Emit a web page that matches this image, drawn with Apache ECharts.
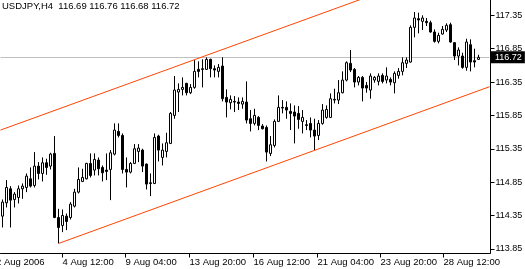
<!DOCTYPE html>
<html><head><meta charset="utf-8">
<script src="https://cdn.jsdelivr.net/npm/echarts@6/dist/echarts.min.js"></script>
<style>html,body{margin:0;padding:0;background:#fff}#c{width:525px;height:269px}</style>
</head><body><div id="c"></div>
<script>
const symbol = 'USDJPY,H4';
const opens = [
114.34,114.54,114.75,114.59,114.62,114.75,114.77,114.90,114.80,115.09,
114.98,115.14,115.09,115.28,114.32,114.20,114.34,114.32,114.49,114.70,
114.86,114.90,115.13,115.03,115.18,115.07,115.03,115.04,115.27,115.61,
115.55,115.04,115.00,115.13,115.31,115.33,115.12,114.84,114.83,115.54,
115.22,115.31,115.43,115.85,116.20,116.24,116.33,116.19,116.27,116.54,
116.55,116.54,116.69,116.55,116.51,116.59,116.12,116.04,116.06,116.05,
116.02,116.05,115.80,115.73,115.82,115.69,115.67,115.28,115.40,115.76,
115.97,115.97,115.91,115.90,115.88,115.76,115.71,115.73,115.63,115.55,
115.73,115.82,115.82,116.09,116.08,116.19,116.38,116.63,116.54,116.35,
116.42,116.30,116.23,116.38,116.36,116.45,116.38,116.39,116.34,116.45,
116.51,116.63,116.65,117.17,117.30,117.26,117.26,117.24,117.10,116.96,
117.07,117.13,117.21,116.94,116.74,116.74,116.57,116.91,116.67,116.69];
const closes = [
114.55,114.77,114.58,114.67,114.75,114.79,114.94,114.79,115.09,114.98,
115.14,115.07,115.27,114.32,114.17,114.35,114.26,114.52,114.70,114.89,
114.92,115.13,114.95,115.19,115.05,114.99,115.01,115.29,115.63,115.55,
115.04,115.00,115.13,115.35,115.36,115.09,114.82,114.83,115.52,115.33,
115.33,115.44,115.88,116.23,116.24,116.27,116.19,116.27,116.51,116.51,
116.54,116.69,116.55,116.53,116.57,116.10,116.05,116.09,116.05,116.03,
116.06,115.78,115.73,115.85,115.70,115.65,115.30,115.41,115.76,115.97,
115.96,115.93,115.88,115.84,115.79,115.82,115.70,115.63,115.54,115.73,
115.93,115.94,116.10,116.08,116.19,116.38,116.64,116.53,116.35,116.42,
116.26,116.26,116.44,116.42,116.44,116.36,116.44,116.35,116.48,116.51,
116.64,116.68,117.17,117.31,117.28,117.31,117.24,117.10,116.96,117.05,
117.14,117.20,116.95,116.74,116.83,116.57,116.95,116.65,116.65,116.72];
const lows = [
114.17,114.47,114.17,114.47,114.53,114.60,114.70,114.77,114.77,114.89,
114.86,114.96,115.04,114.31,113.93,114.10,114.13,114.29,114.47,114.68,
114.85,114.89,114.92,114.95,114.95,114.86,114.88,114.58,115.25,115.52,
114.98,114.77,114.98,115.12,115.15,115.00,114.74,114.64,114.82,115.16,
115.10,115.22,115.42,115.80,115.90,116.15,116.15,116.17,116.25,116.42,
116.27,116.53,116.42,116.42,116.42,116.06,115.82,115.94,115.90,115.93,
115.95,115.73,115.61,115.70,115.63,115.64,115.16,115.24,115.37,115.75,
115.88,115.80,115.63,115.43,115.65,115.58,115.63,115.52,115.33,115.48,
115.71,115.80,115.81,116.03,116.02,116.18,116.36,116.50,116.27,116.30,
116.06,116.19,116.10,116.34,116.30,116.33,116.33,116.30,116.18,116.40,
116.45,116.56,116.64,117.02,117.08,117.13,117.19,117.09,116.94,116.93,
117.06,117.10,116.94,116.68,116.60,116.55,116.52,116.51,116.57,116.68];
const highs = [
114.59,114.88,114.79,114.70,114.80,114.83,114.98,115.07,115.30,115.15,
115.22,115.20,115.29,115.54,114.45,114.44,114.38,114.55,114.75,115.07,
115.05,115.14,115.28,115.28,115.22,115.10,115.28,115.33,115.73,115.73,
115.58,115.22,115.15,115.42,115.42,115.35,115.13,114.98,115.58,115.56,
115.43,115.59,115.90,116.44,116.33,116.42,116.34,116.32,116.68,116.66,
116.69,116.72,116.70,116.60,116.62,116.72,116.24,116.15,116.14,116.12,
116.12,116.36,115.93,115.95,115.84,115.72,115.70,115.54,115.79,116.15,
116.08,116.06,116.03,116.00,115.99,115.93,115.78,115.82,115.80,115.78,
116.02,116.00,116.18,116.25,116.38,116.51,116.66,116.83,116.56,116.44,
116.44,116.35,116.48,116.44,116.48,116.48,116.57,116.42,116.51,116.56,
116.72,116.72,117.20,117.40,117.39,117.35,117.31,117.27,117.14,117.09,
117.19,117.23,117.24,116.95,116.87,116.79,117.00,116.99,116.85,116.76];

const tickPos = [15, 30.75, 46.75, 62.75, 78.75, 94.5, 110.25];
const tickLabels = ['4 Aug 12:00','9 Aug 04:00','13 Aug 20:00','16 Aug 12:00','21 Aug 04:00','23 Aug 20:00','28 Aug 12:00'];
const firstLabel = '2 Aug 2006';
const yTicks = [113.85,114.35,114.85,115.35,115.85,116.35,116.85,117.35];
const upperLine = [[-0.5,115.63],[121.75,118.29]];
const lowerLine = [[14,113.93],[121.75,116.28]];

const FONT = '"Liberation Sans", Arial, sans-serif';
const n = opens.length;
const last = n - 1;
const candles = opens.map((o, i) => [i, o, closes[i], lows[i], highs[i]]);
const titleText = symbol + '  ' + [opens[last], highs[last], lows[last], closes[last]].map(v => v.toFixed(2)).join(' ');

const chart = echarts.init(document.getElementById('c'), null, {renderer: 'canvas'});
chart.setOption({
  animation: false,
  backgroundColor: '#ffffff',
  title: {text: titleText, left: 2, top: 1, padding: 0,
    textStyle: {fontSize: 9.5, fontWeight: 'normal', color: '#000', fontFamily: FONT}},
  grid: {left: 0.5, top: 0, width: 489, height: 253.5, containLabel: false, outerBoundsMode: 'none'},
  xAxis: {
    type: 'value', min: -0.5, max: 121.75,
    splitLine: {show: false},
    axisLine: {show: true, onZero: false, lineStyle: {color: '#000', width: 1}},
    axisTick: {show: true, length: 4, customValues: tickPos, lineStyle: {color: '#000'}},
    axisLabel: {
      customValues: tickPos, align: 'left', margin: 4, color: '#000', fontSize: 9.5, fontFamily: FONT,
      formatter: function (v) {
        const k = tickPos.findIndex(p => Math.abs(p - v) < 1e-6);
        return k >= 0 ? tickLabels[k] : '';
      }
    }
  },
  yAxis: {
    type: 'value', position: 'right', offset: 1, min: 113.78, max: 117.58,
    splitLine: {show: false},
    axisLine: {show: true, onZero: false, lineStyle: {color: '#000', width: 1}},
    axisTick: {show: true, length: 4, customValues: yTicks, lineStyle: {color: '#000'}},
    axisLabel: {customValues: yTicks, margin: 5, color: '#000', fontSize: 9, fontFamily: FONT,
      formatter: v => v.toFixed(2)}
  },
  graphic: [{
    type: 'text', x: -4, y: 257.5, silent: true,
    style: {text: firstLabel, fill: '#000', font: '9.5px ' + FONT, align: 'left', verticalAlign: 'top'}
  }],
  series: [
    {
      type: 'candlestick', data: candles, barWidth: 2, silent: true, z: 2,
      itemStyle: {color: '#ffffff', color0: '#000000', borderColor: '#000000', borderColor0: '#000000',
        borderColorDoji: '#000000', borderWidth: 1},
      emphasis: {disabled: true},
      markLine: {
        silent: true, z: 1, symbol: ['none', 'none'], animation: false,
        data: [{yAxis: closes[last]}],
        lineStyle: {color: '#c0c0c0', type: 'solid', width: 1},
        label: {show: true, position: 'end', distance: 1.5, formatter: p => Number(p.value).toFixed(2),
          color: '#fff', backgroundColor: '#000', padding: [1, 3, 1, 4], fontSize: 9, lineHeight: 10, fontFamily: FONT},
        emphasis: {disabled: true}
      }
    },
    {type: 'line', data: upperLine, symbol: 'none', silent: true, clip: true, z: 3,
      lineStyle: {color: '#ff4500', width: 1}, emphasis: {disabled: true}},
    {type: 'line', data: lowerLine, symbol: 'none', silent: true, clip: true, z: 3,
      lineStyle: {color: '#ff4500', width: 1}, emphasis: {disabled: true}}
  ]
});
</script></body></html>
